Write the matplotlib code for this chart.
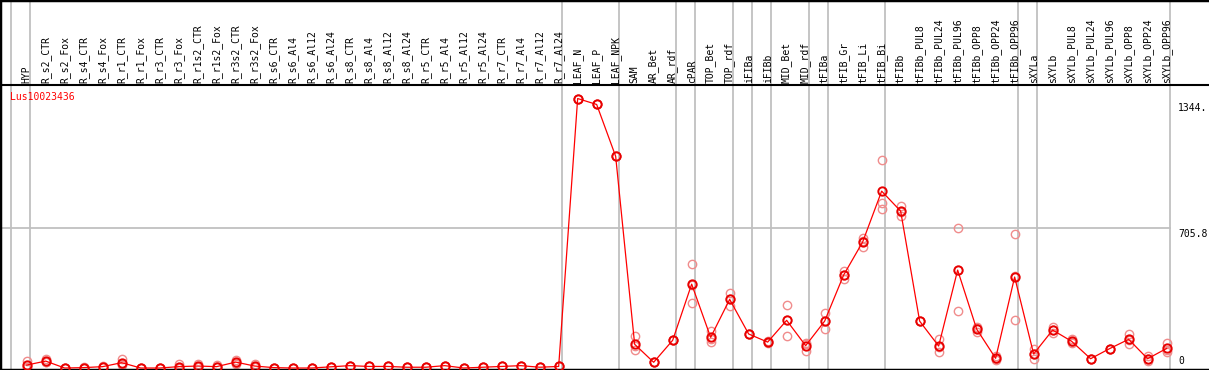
import numpy as np
import matplotlib
matplotlib.use('Agg')
import matplotlib.pyplot as plt
import matplotlib.transforms as mtransforms

# 样本名
samples = ['HYP',
           'R_s2_CTR', 'R_s2_Fox', 'R_s4_CTR', 'R_s4_Fox', 'R_r1_CTR', 'R_r1_Fox',
           'R_r3_CTR', 'R_r3_Fox', 'R_r1s2_CTR', 'R_r1s2_Fox', 'R_r3s2_CTR', 'R_r3s2_Fox',
           'R_s6_CTR', 'R_s6_Al4', 'R_s6_Al12', 'R_s6_Al24', 'R_s8_CTR', 'R_s8_Al4',
           'R_s8_Al12', 'R_s8_Al24', 'R_r5_CTR', 'R_r5_Al4', 'R_r5_Al12', 'R_r5_Al24',
           'R_r7_CTR', 'R_r7_Al4', 'R_r7_Al12', 'R_r7_Al24',
           'LEAF_N', 'LEAF_P', 'LEAF_NPK',
           'SAM', 'AR_Bet', 'AR_rdf',
           'cPAR',
           'TOP_Bet', 'TOP_rdf',
           'iFIBa', 'iFIBb',
           'MID_Bet', 'MID_rdf',
           'tFIBa',
           'tFIB_Gr', 'tFIB_Li', 'tFIB_Bi',
           'tFIBb', 'tFIBb_PUL8', 'tFIBb_PUL24', 'tFIBb_PUL96', 'tFIBb_OPP8',
           'tFIBb_OPP24', 'tFIBb_OPP96',
           'sXYLa',
           'sXYLb', 'sXYLb_PUL8', 'sXYLb_PUL24', 'sXYLb_PUL96', 'sXYLb_OPP8',
           'sXYLb_OPP24', 'sXYLb_OPP96']

# 分组大小 (竖线位置)
group_sizes = [1, 28, 3, 3, 1, 2, 1, 1, 2, 1, 3, 7, 1, 7]

# 平均值
means = [15, 35, 0, 2, 7, 27, 0, 0, 7, 10, 7, 30, 10, 2,
         0, 0, 6, 12, 8, 8, 4, 4, 12, 0, 4, 8, 12, 4, 8,
         1362, 1332, 1070,
         120, 29, 140,
         424,
         155, 347,
         172, 131,
         241, 113,
         237,
         470, 637, 894,
         793, 237, 111, 495, 197, 49, 460,
         71,
         192, 135, 47, 98, 145, 47, 99]

# 重复样本
reps = [[35, 5, 5], [45, 30, 30], [0, 0, 0], [5, 0, 0], [10, 5, 5], [45, 20, 15],
        [0, 0, 0], [0, 0, 0], [18, 2, 2], [18, 7, 5], [15, 3, 3], [42, 25, 22],
        [22, 5, 3], [2, 2, 2],
        [0, 0, 0], [0, 0, 0], [6, 6, 6], [12, 12, 12], [8, 8, 8], [8, 8, 8],
        [4, 4, 4], [4, 4, 4], [12, 12, 12], [0, 0, 0], [4, 4, 4], [8, 8, 8],
        [12, 12, 12], [4, 4, 4], [8, 8, 8],
        [1362, 1362, 1362], [1332, 1332, 1332], [1070, 1070, 1070],
        [160, 89, 111], [29, 29, 29], [140, 140, 140],
        [525, 327, 420],
        [188, 130, 147], [377, 313, 351],
        [172, 172, 172], [135, 128, 131],
        [317, 163, 243], [128, 88, 123],
        [278, 195, 238],
        [492, 448, 470], [658, 613, 640], [1051, 835, 803],
        [820, 768, 791], [237, 237, 237], [146, 79, 108], [706, 286, 493],
        [209, 180, 202], [60, 40, 47], [675, 241, 464],
        [96, 44, 73],
        [209, 175, 192], [148, 128, 129], [47, 47, 47], [98, 98, 98],
        [172, 121, 142], [60, 37, 44], [128, 79, 90]]

title = 'Lus10023436'
yticks = [0, 705.8, 1344]
ytick_labels = ['0', '705.8', '1344.']

mono = 'DejaVu Sans Mono'

fig = plt.figure(figsize=(12.09, 3.70), dpi=100)
ax = fig.add_axes([0, 0, 1, 1])
x = np.arange(len(samples))

ax.set_xlim(-1.405, 62.23)
ax.set_ylim(-10, 1860)
header = 1 - 85 / 370.0

# 竖线
bounds = np.cumsum([0] + group_sizes) - 1 + 0.175
for b in bounds:
    ax.axvline(b, color='#c0c0c0', lw=1.3, zorder=1)
# 横线 (中间刻度)
ax.axhline(yticks[1], xmax=(60.175 + 1.405) / (62.23 + 1.405), color='#c0c0c0', lw=1.3, zorder=1)
ax.axhline(1429.7, color='black', lw=1.5, zorder=3)

# 重复样本
rx = np.repeat(x, 3)
ry = np.array(reps).ravel()
ax.plot(rx, ry, 'o', ms=6, mfc='none', mec='#f08c8c', mew=1.0, zorder=2)

ax.plot(x, means, '-', color='red', lw=0.9, zorder=4)
ax.plot(x, means, 'o', ms=6, mfc='none', mec='#e80000', mew=1.4, zorder=5)

trans = mtransforms.blended_transform_factory(ax.transData, ax.transAxes)
for i, s in enumerate(samples):
    ax.text(i, 1 - 83 / 370.0, s, rotation=90, ha='center', va='bottom',
            fontsize=7, family=mono, transform=trans)

ax.text(10 / 1209.0, 1 - 97 / 370.0, title, color='red', fontsize=7, family=mono,
        ha='left', va='center', transform=ax.transAxes)

ytrans = mtransforms.blended_transform_factory(ax.transAxes, ax.transData)
for v, lab in zip(yticks, ytick_labels):
    va = 'bottom' if v == 0 else 'top'
    ax.text(1178 / 1209.0, v + (8 if v == 0 else -4), lab, fontsize=7, family=mono,
            ha='left', va=va, transform=ytrans)

ax.set_xticks([])
ax.set_yticks([])
ax.spines['right'].set_visible(False)
for sp in ['top', 'left', 'bottom']:
    ax.spines[sp].set_linewidth(2.5)

fig.savefig('out.png', dpi=100)
